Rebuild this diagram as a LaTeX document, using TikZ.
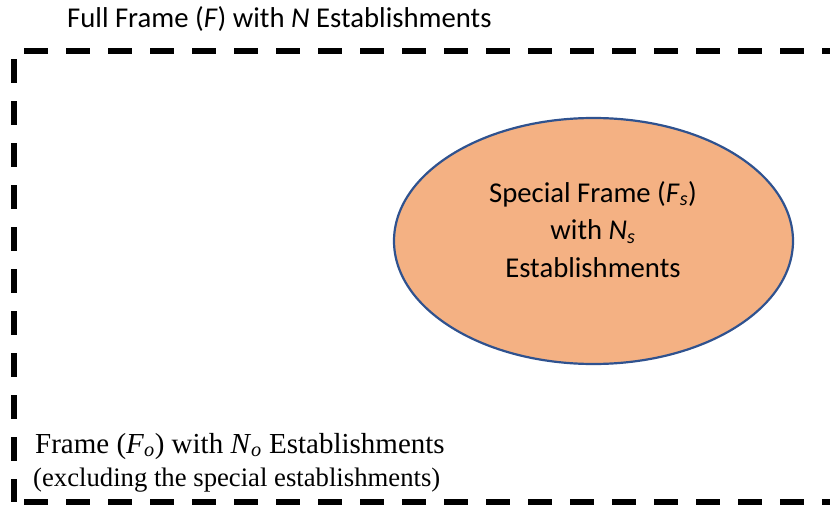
\documentclass[tikz,border=0pt]{standalone}
\usepackage{fontspec}
\setmainfont{Liberation Serif}
\newfontfamily\calib{Carlito}
\usetikzlibrary{shapes.geometric}
\definecolor{ellfill}{HTML}{F4B183}
\definecolor{elldraw}{HTML}{2F528F}
\tikzset{
  frameline/.style={line width=6pt, black, dash pattern=on 24pt off 18pt},
  sanslbl/.style={font=\calib\fontsize{28.7}{32}\selectfont, inner sep=0pt, anchor=base},
  seriflbl/.style={inner sep=0pt, anchor=base west},
  specialell/.style={ellipse, draw=elldraw, fill=ellfill, line width=2.2pt, minimum width=399pt, minimum height=246pt, inner sep=0pt}
}
\begin{document}
\begin{tikzpicture}[x=1pt,y=-1pt]
\useasboundingbox (0,0) rectangle (830,508);
\coordinate (tl) at (14.3,51.3);
\coordinate (tr) at (850,51.3);
\coordinate (bl) at (14.3,502);
\coordinate (br) at (850,502);
\begin{scope}
\clip (0,0) rectangle (830,508);
\draw[frameline, dash phase=32pt] (tl) -- (tr);
\draw[frameline, dash phase=34pt] (tl) -- (bl);
\draw[frameline, dash phase=29pt] ([xshift=-3pt]bl) -- (br);
\end{scope}
\node[sanslbl, anchor=base west] (title) at (67,28) {Full Frame (\textit{F}) with \textit{N} Establishments};
\node[specialell] (special) at (593.5,241) {};
\node[sanslbl] (s1) at (593,202) {Special Frame (\textit{F}\textsubscript{\textit{s}})};
\node[sanslbl] (s2) at (593,239.5) {with \textit{N}\textsubscript{\textit{s}}};
\node[sanslbl] (s3) at (593,277) {Establishments};
\node[seriflbl, font=\fontsize{29}{33}\selectfont] (o1) at (35,453) {Frame (\textit{F}\textsubscript{\textit{o}}) with \textit{N}\textsubscript{\textit{o}} Establishments};
\node[seriflbl, font=\fontsize{26.7}{30}\selectfont] (o2) at (33,486) {(excluding the special establishments)};
\end{tikzpicture}
\end{document}
